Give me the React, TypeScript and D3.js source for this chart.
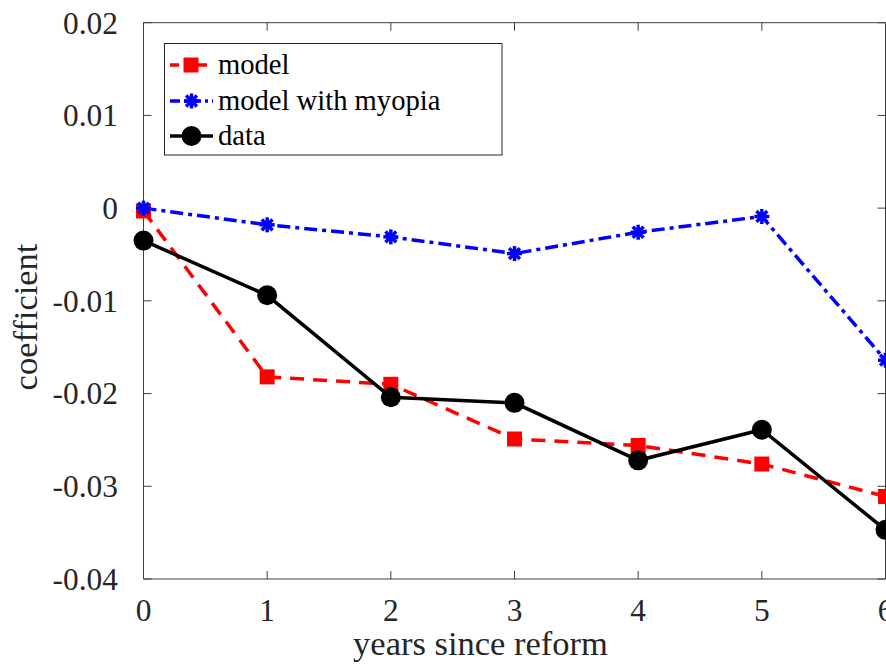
import React from "react";
import * as d3 from "d3";

const years = [0, 1, 2, 3, 4, 5, 6];
const modelValues = [-0.0003, -0.0182, -0.019, -0.0249, -0.0256, -0.0276, -0.0311];
const myopiaValues = [0.0, -0.0018, -0.0031, -0.0049, -0.0026, -0.0009, -0.0164];
const dataValues = [-0.0035, -0.0094, -0.0204, -0.021, -0.0272, -0.0239, -0.0347];
const yTicks = [0.02, 0.01, 0, -0.01, -0.02, -0.03, -0.04];
const xTicks = [0, 1, 2, 3, 4, 5, 6];
const legendLabels = ["model", "model with myopia", "data"];

const W = 886;
const H = 668;
const left = 143.5;
const right = 885.5;
const top = 22.7;
const bottom = 579;
const FONT = "'Liberation Serif', 'Times New Roman', serif";
const TXT = "#262626";
const TICK_FS = 31.4;
const LABEL_FS = 34.5;
const LEG_FS = 28.6;

export default function App() {
  const x = d3.scaleLinear().domain([0, 6]).range([left, right]);
  const y = d3.scaleLinear().domain([-0.04, 0.02]).range([bottom, top]);
  const line = d3
    .line<number>()
    .x((_, i) => x(years[i]))
    .y((d) => y(d));

  const square = (cx: number, cy: number, k: string) => (
    <rect key={k} x={cx - 7.5} y={cy - 7.5} width={15} height={15} fill="#ff0000" />
  );
  const star = (cx: number, cy: number, k: string) => {
    const r = 7.5;
    const q = r * 0.72;
    return (
      <g key={k} stroke="#0000ff" strokeWidth={3.5} strokeLinecap="butt">
        <line x1={cx - r} y1={cy} x2={cx + r} y2={cy} />
        <line x1={cx} y1={cy - r} x2={cx} y2={cy + r} />
        <line x1={cx - q} y1={cy - q} x2={cx + q} y2={cy + q} />
        <line x1={cx - q} y1={cy + q} x2={cx + q} y2={cy - q} />
      </g>
    );
  };
  const circle = (cx: number, cy: number, k: string) => (
    <circle key={k} cx={cx} cy={cy} r={10} fill="#000" />
  );

  const tickLen = 8;
  const legX = 164.5;
  const legY = 43.5;
  const legW = 337.5;
  const legH = 111.5;
  const legRows = [65, 101, 136];
  const ts = { fontFamily: FONT } as React.CSSProperties;

  return (
    <svg
      width={W}
      height={H}
      style={{ position: "absolute", left: 0, top: 0, background: "#fff" }}
    >
      <rect x={0} y={0} width={W} height={H} fill="#fff" />
      {/* axes box */}
      <g stroke="#404040" strokeWidth={1} fill="none">
        <line x1={left} y1={top} x2={left} y2={bottom} />
        <line x1={left} y1={bottom} x2={right} y2={bottom} />
        <line x1={left} y1={top} x2={right} y2={top} />
        <line x1={right} y1={top} x2={right} y2={bottom} />
        {xTicks.map((t) => (
          <g key={"xt" + t}>
            <line x1={x(t)} y1={bottom} x2={x(t)} y2={bottom - tickLen} />
            <line x1={x(t)} y1={top} x2={x(t)} y2={top + tickLen} />
          </g>
        ))}
        {yTicks.map((t) => (
          <g key={"yt" + t}>
            <line x1={left} y1={y(t)} x2={left + tickLen} y2={y(t)} />
            <line x1={right} y1={y(t)} x2={right - tickLen} y2={y(t)} />
          </g>
        ))}
      </g>
      {/* tick labels */}
      {xTicks.map((t) => (
        <text key={"xl" + t} x={x(t)} y={621} textAnchor="middle" fontSize={TICK_FS} fill={TXT} style={ts}>
          {String(t)}
        </text>
      ))}
      {yTicks.map((t) => (
        <text key={"yl" + t} x={118} y={y(t) + 10.8} textAnchor="end" fontSize={TICK_FS} fill={TXT} style={ts}>
          {t === 0 ? "0" : String(t)}
        </text>
      ))}
      {/* axis labels */}
      <text x={480.5} y={655} textAnchor="middle" fontSize={LABEL_FS} fill={TXT} style={ts}>
        years since reform
      </text>
      <text
        transform={`translate(37,317) rotate(-90)`}
        textAnchor="middle"
        fontSize={LABEL_FS}
        fill={TXT}
        style={ts}
      >
        coefficient
      </text>

      {/* series */}
      <path d={line(modelValues) || ""} fill="none" stroke="#ff0000" strokeWidth={3.5} strokeDasharray="14,9" />
      {modelValues.map((v, i) => square(x(years[i]), y(v), "m" + i))}
      <path d={line(myopiaValues) || ""} fill="none" stroke="#0000ff" strokeWidth={3.5} strokeDasharray="13,5,4,5" />
      {myopiaValues.map((v, i) => star(x(years[i]), y(v), "b" + i))}
      <path d={line(dataValues) || ""} fill="none" stroke="#000" strokeWidth={3.5} />
      {dataValues.map((v, i) => circle(x(years[i]), y(v), "d" + i))}

      {/* legend */}
      <rect x={legX} y={legY} width={legW} height={legH} fill="#fff" stroke="#262626" strokeWidth={1} />
      <line x1={170} y1={legRows[0]} x2={211} y2={legRows[0]} stroke="#ff0000" strokeWidth={3.5} strokeDasharray="9,5" />
      {square(191, legRows[0], "lm")}
      <line x1={170} y1={legRows[1]} x2={213} y2={legRows[1]} stroke="#0000ff" strokeWidth={3.5} strokeDasharray="10,4,3,4" />
      {star(191.5, legRows[1], "lb")}
      <line x1={170} y1={legRows[2]} x2={213} y2={legRows[2]} stroke="#000" strokeWidth={3.5} />
      {circle(191.5, legRows[2], "ld")}
      {legendLabels.map((l, i) => (
        <text key={l} x={218} y={legRows[i] + 9} fontSize={LEG_FS} fill="#000" style={ts}>
          {l}
        </text>
      ))}
    </svg>
  );
}
